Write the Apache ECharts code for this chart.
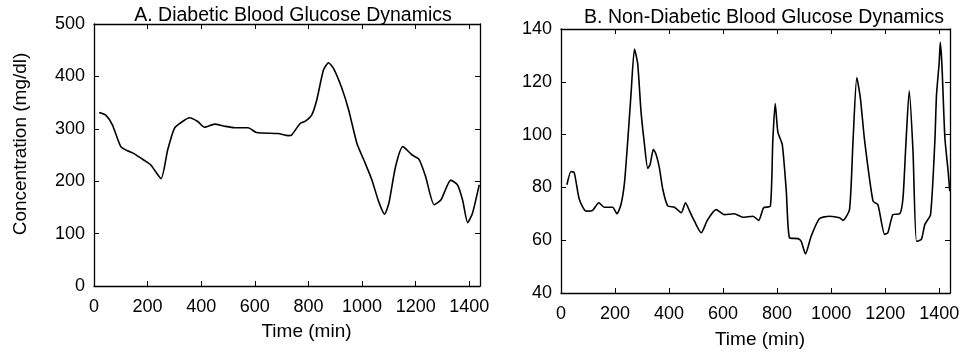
<!DOCTYPE html>
<html>
<head>
<meta charset="utf-8">
<script src="https://cdn.jsdelivr.net/npm/echarts@6/dist/echarts.min.js"></script>
<style>
  html, body { margin: 0; padding: 0; background: #fff; }
  #chart { width: 971px; height: 358px; }
</style>
</head>
<body>
<div id="chart"></div>
<script>
// A. diabetic subject
const timeA = [19, 44, 69, 100, 125, 144, 187, 212, 250, 275, 300, 325, 356, 387, 412, 450, 487, 525, 575, 606, 687, 725, 737, 769, 787, 812, 831, 856, 875, 894, 925, 950, 981, 1012, 1037, 1062, 1084, 1100, 1125, 1152, 1187, 1212, 1237, 1269, 1294, 1331, 1356, 1375, 1394, 1412, 1437];
const glucoseA = [331, 326, 307, 266, 258, 254, 240, 231, 205, 260, 301, 312, 321, 314, 303, 309, 305, 302, 302, 293, 291, 287, 288, 310, 314, 326, 355, 412, 426, 415, 377, 336, 272, 234, 202, 161, 137, 158, 228, 266, 250, 242, 209, 155, 164, 202, 193, 164, 121, 139, 193];

// B. non-diabetic subject
const timeB = [22, 37, 49, 68, 93, 117, 140, 160, 191, 207, 222, 235, 247, 259, 272, 284, 296, 309, 321, 330, 342, 352, 364, 377, 395, 420, 445, 461, 476, 494, 519, 543, 574, 605, 642, 673, 710, 732, 750, 775, 784, 793, 803, 819, 834, 846, 877, 889, 905, 926, 957, 994, 1031, 1044, 1068, 1081, 1095, 1108, 1124, 1155, 1173, 1198, 1210, 1229, 1254, 1266, 1276, 1289, 1303, 1316, 1334, 1347, 1368, 1384, 1390, 1400, 1404, 1410, 1421, 1433, 1439];
const glucoseB = [81, 86, 85.6, 75.4, 71, 71.3, 74.2, 72.5, 72.5, 70, 73.5, 81.8, 97.6, 115, 132.4, 126.7, 109, 96.3, 87.2, 88.7, 94.4, 92.5, 87.5, 79.2, 73, 72.5, 70.4, 74.2, 71, 67.2, 62.8, 67.8, 71.6, 69.7, 70, 68.7, 69.1, 67.5, 72.3, 72.9, 97.6, 111.8, 100.8, 96.3, 78.6, 60.9, 60.6, 59.6, 54.8, 61.5, 68.2, 69.1, 68.5, 67.5, 71.6, 97.6, 121.6, 114, 97.6, 74.8, 73.5, 62.2, 62.8, 69.7, 70, 76, 95, 116.6, 93.8, 59.6, 60.3, 66, 69.7, 97.6, 115, 127.3, 135, 126.7, 98.9, 86.2, 78.6];

const titles = ['A. Diabetic Blood Glucose Dynamics', 'B. Non-Diabetic Blood Glucose Dynamics'];
const timeTicks = [0, 200, 400, 600, 800, 1000, 1200, 1400];

const font = 'Liberation Sans, Arial, sans-serif';
const black = '#000';

function xAxes(gridIndex, nameGap, nameShift) {
  const base = {
    gridIndex,
    type: 'value',
    min: 0,
    max: 1440,
    interval: 200,
    splitLine: { show: false },
    axisLine: { show: true, onZero: false, lineStyle: { color: black, width: 1.3 } },
    axisTick: { show: true, inside: true, length: 5, lineStyle: { color: black } },
  };
  return [
    {
      ...base,
      position: 'bottom',
      name: 'Time (min)',
      nameLocation: 'middle',
      nameGap,
      nameTextStyle: { color: black, fontFamily: font, fontSize: 19, padding: [0, 0, 0, nameShift] },
      axisLabel: {
        color: black,
        fontFamily: font,
        fontSize: 18,
        margin: 12,
        formatter: (v) => (timeTicks.includes(v) ? String(v) : ''),
      },
    },
    { ...base, position: 'top', axisLabel: { show: false } },
  ];
}

function yAxes(gridIndex, min, max, interval, name) {
  const base = {
    gridIndex,
    type: 'value',
    min,
    max,
    interval,
    splitLine: { show: false },
    axisLine: { show: true, onZero: false, lineStyle: { color: black, width: 1.3 } },
    axisTick: { show: true, inside: true, length: 5, lineStyle: { color: black } },
  };
  return [
    {
      ...base,
      position: 'left',
      name,
      nameLocation: 'middle',
      nameGap: 64,
      nameTextStyle: { color: black, fontFamily: font, fontSize: 19, padding: [0, 0, 0, 22] },
      axisLabel: { color: black, fontFamily: font, fontSize: 18, margin: 9 },
    },
    { ...base, position: 'right', axisLabel: { show: false } },
  ];
}

const chart = echarts.init(document.getElementById('chart'), null, { renderer: 'canvas' });

chart.setOption({
  animation: false,
  backgroundColor: '#fff',
  title: [
    {
      text: titles[0],
      left: 288,
      top: 1,
      textAlign: 'center',
      textStyle: { color: black, fontFamily: font, fontSize: 19.5, fontWeight: 'normal' },
    },
    {
      text: titles[1],
      left: 759,
      top: 3,
      textAlign: 'center',
      textStyle: { color: black, fontFamily: font, fontSize: 19.5, fontWeight: 'normal' },
    },
  ],
  grid: [
    { left: 94, top: 24, width: 386, height: 262 },
    { left: 561, top: 29, width: 389, height: 264 },
  ],
  xAxis: [...xAxes(0, 36, 39), ...xAxes(1, 37, 9)],
  yAxis: [...yAxes(0, 0, 500, 100, 'Concentration (mg/dl)'), ...yAxes(1, 40, 140, 20, '')],
  series: [
    {
      type: 'line',
      xAxisIndex: 0,
      yAxisIndex: 0,
      showSymbol: false,
      smooth: 0.2,
      lineStyle: { color: black, width: 1.6 },
      data: timeA.map((t, i) => [t, glucoseA[i]]),
    },
    {
      type: 'line',
      xAxisIndex: 2,
      yAxisIndex: 2,
      showSymbol: false,
      smooth: 0.2,
      lineStyle: { color: black, width: 1.6 },
      data: timeB.map((t, i) => [t, glucoseB[i]]),
    },
  ],
});
</script>
</body>
</html>
